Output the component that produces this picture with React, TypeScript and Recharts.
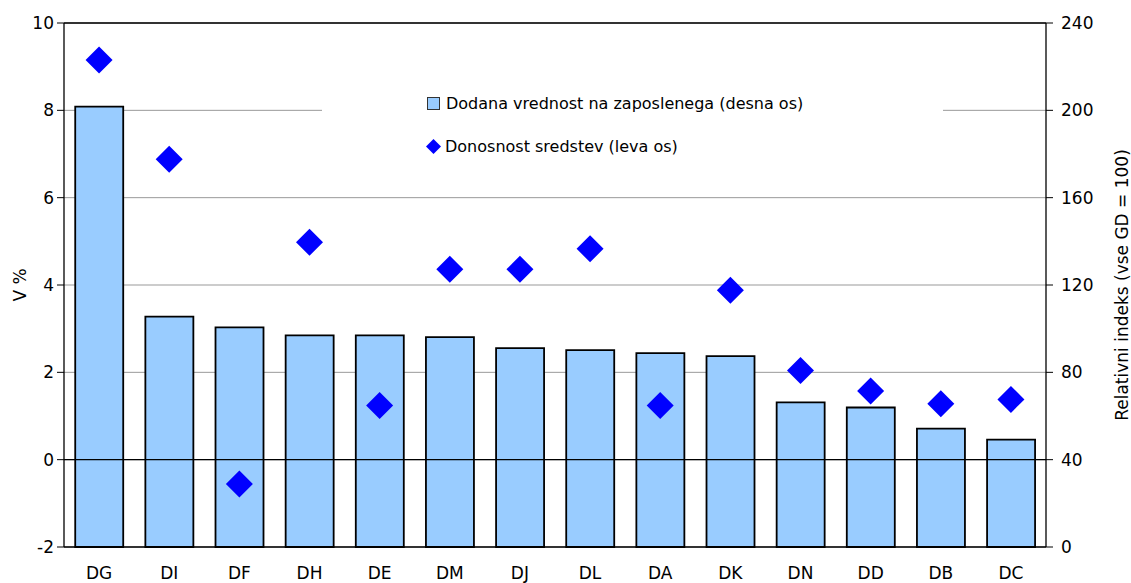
import {
  ComposedChart, Bar, Line, XAxis, YAxis, CartesianGrid, ReferenceLine,
} from "recharts";

const categories = ["DG", "DI", "DF", "DH", "DE", "DM", "DJ", "DL", "DA", "DK", "DN", "DD", "DB", "DC"];
// dodana vrednost na zaposlenega, relativni indeks (desna os)
const addedValue = [201.7, 105.5, 100.6, 96.9, 96.9, 96.1, 91.1, 90.2, 88.8, 87.4, 66.2, 63.9, 54.2, 49.2];
// donosnost sredstev v % (leva os)
const returnOnAssets = [9.15, 6.88, -0.56, 4.98, 1.24, 4.36, 4.36, 4.83, 1.24, 3.88, 2.04, 1.57, 1.28, 1.38];
const leftTicks = [-2, 0, 2, 4, 6, 8, 10];
const rightTicks = [0, 40, 80, 120, 160, 200, 240];

const BAR_NAME = "Dodana vrednost na zaposlenega (desna os)";
const DOT_NAME = "Donosnost sredstev (leva os)";

const FONT = "'DejaVu Sans', 'Liberation Sans', Arial, sans-serif";
const tickStyle = { fill: "#000", fontSize: 17, fontFamily: FONT };

const data = categories.map((c, i) => ({ name: c, value: addedValue[i], roa: returnOnAssets[i] }));

const Diamond = (props: any) => {
  const { cx, cy } = props;
  if (cx == null || cy == null) return null;
  const r = 13.5;
  return <polygon points={`${cx},${cy - r} ${cx + r},${cy} ${cx},${cy + r} ${cx - r},${cy}`} fill="#0000ff" />;
};

// legenda z belim ozadjem, ki prekrije mrezo (kot v izvirniku)
const ChartLegend = () => (
  <div style={{ position: "absolute", left: 322, top: 80, width: 621, height: 88, background: "#fff", fontFamily: FONT, fontSize: 16, color: "#000" }}>
    <div style={{ position: "absolute", left: 105, top: 14, display: "flex", alignItems: "center", whiteSpace: "nowrap" }}>
      <span style={{ width: 11, height: 11, background: "#99ccff", border: "1px solid #333", marginRight: 6 }} />
      {BAR_NAME}
    </div>
    <div style={{ position: "absolute", left: 104, top: 57, display: "flex", alignItems: "center", whiteSpace: "nowrap" }}>
      <svg width={15} height={15} style={{ marginRight: 4 }}>
        <polygon points="7.5,0 15,7.5 7.5,15 0,7.5" fill="#0000ff" />
      </svg>
      {DOT_NAME}
    </div>
  </div>
);

export default function App() {
  return (
    <div style={{ position: "relative", width: 1131, height: 583 }}>
      <style>{`body{margin:0}`}</style>
      <ComposedChart
        width={1131}
        height={583}
        data={data}
        margin={{ top: 23, right: 0, bottom: 0, left: 0 }}
        barCategoryGap="16%"
      >
        <CartesianGrid yAxisId="left" vertical={false} stroke="#999" />
        <XAxis
          dataKey="name"
          height={36}
          axisLine={{ stroke: "#000", strokeWidth: 1.3 }}
          tickLine={false}
          tickSize={0}
          tickMargin={20}
          tick={tickStyle}
          interval={0}
        />
        <YAxis
          yAxisId="left"
          domain={[-2, 10]}
          ticks={leftTicks}
          width={64}
          tickSize={7}
          tickMargin={3}
          axisLine={{ stroke: "#000", strokeWidth: 1.3 }}
          tickLine={{ stroke: "#000" }}
          tick={tickStyle}
          label={{ value: "V %", angle: -90, position: "insideLeft", offset: 20, style: { ...tickStyle, textAnchor: "middle" } }}
        />
        <YAxis
          yAxisId="right"
          orientation="right"
          domain={[0, 240]}
          ticks={rightTicks}
          width={85}
          tickSize={7}
          tickMargin={8}
          axisLine={{ stroke: "#000", strokeWidth: 1.3 }}
          tickLine={{ stroke: "#000" }}
          tick={{ ...tickStyle, textAnchor: "start" }}
          label={{ value: "Relativni indeks (vse GD = 100)", angle: -90, position: "insideRight", offset: 9, style: { ...tickStyle, textAnchor: "middle" } }}
        />
        <ReferenceLine yAxisId="left" y={0} stroke="#000" strokeWidth={1.2} />
        <ReferenceLine yAxisId="left" y={10} stroke="#000" strokeWidth={1.3} />
        <Bar
          yAxisId="right"
          dataKey="value"
          name={BAR_NAME}
          fill="#99ccff"
          stroke="#000"
          strokeWidth={1.8}
          isAnimationActive={false}
        />
        <Line
          yAxisId="left"
          dataKey="roa"
          name={DOT_NAME}
          stroke="none"
          strokeWidth={0}
          dot={<Diamond />}
          activeDot={false}
          isAnimationActive={false}
        />
      </ComposedChart>
      <ChartLegend />
    </div>
  );
}
